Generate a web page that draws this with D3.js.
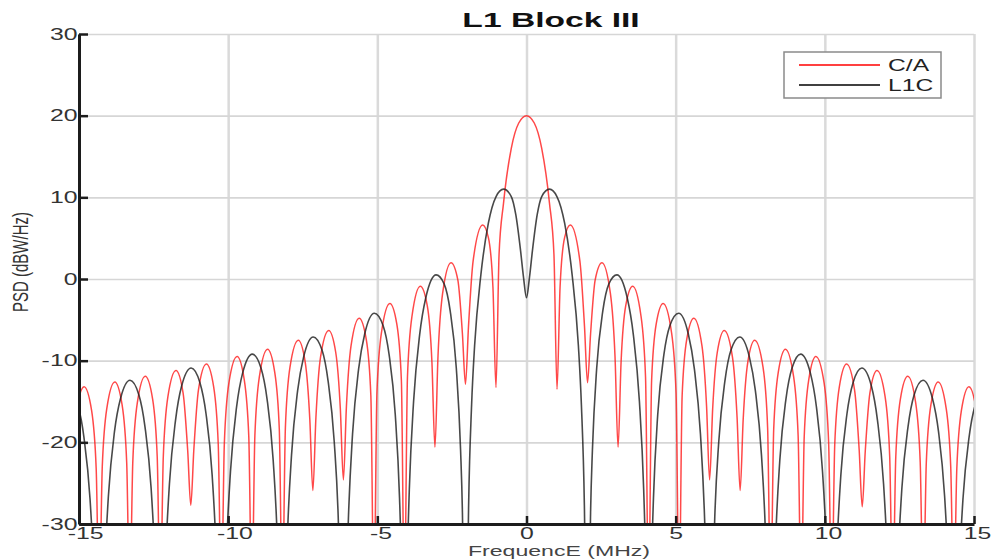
<!DOCTYPE html>
<html>
<head>
<meta charset="utf-8">
<script src="https://cdn.jsdelivr.net/npm/d3@7"></script>
<style>
  body { margin: 0; background: #fff; }
  text { font-family: "Liberation Sans", Arial, sans-serif; }
</style>
</head>
<body>
<script>
// tick values
const xTicks = [-15, -10, -5, 0, 5, 10, 15]
const yTicks = [-30, -20, -10, 0, 10, 20, 30]
const seriesNames = ['C/A', 'L1C']

// C/A (BPSK) PSD, [MHz, dB]
const caPsd = [
  [-15.345,-40],[-15.243,-23.6],[-15.089,-16.4],[-14.83,-13.2],[-14.578,-16.1],[-14.424,-23.2],
  [-14.322,-40],[-14.220,-23.0],[-14.066,-15.8],[-13.80,-12.6],[-13.555,-15.4],[-13.401,-22.5],
  [-13.299,-40],[-13.197,-22.4],[-13.043,-15.1],[-12.78,-11.9],[-12.532,-14.7],[-12.378,-21.8],
  [-12.276,-40],[-12.174,-21.7],[-12.020,-14.4],[-11.75,-11.2],[-11.509,-14.0],[-11.355,-21.1],
  [-11.253,-27.7],[-11.151,-20.9],[-10.997,-13.6],[-10.73,-10.4],[-10.486,-13.2],[-10.332,-20.3],
  [-10.23,-40],[-10.128,-20.1],[-9.974,-12.7],[-9.70,-9.5],[-9.463,-12.3],[-9.309,-19.3],
  [-9.207,-40],[-9.105,-19.2],[-8.951,-11.9],[-8.68,-8.6],[-8.440,-11.4],[-8.286,-18.4],
  [-8.184,-40],[-8.082,-18.2],[-7.928,-10.8],[-7.65,-7.5],[-7.417,-10.2],[-7.263,-17.2],
  [-7.161,-25.9],[-7.059,-17.0],[-6.905,-9.6],[-6.63,-6.3],[-6.394,-9.0],[-6.240,-15.9],
  [-6.138,-24.6],[-6.036,-15.6],[-5.882,-8.2],[-5.61,-4.8],[-5.371,-7.4],[-5.217,-14.3],
  [-5.115,-40],[-5.013,-13.9],[-4.859,-6.5],[-4.58,-3.0],[-4.348,-5.5],[-4.194,-12.4],
  [-4.092,-40],[-3.990,-12.0],[-3.836,-4.5],[-3.56,-0.9],[-3.325,-3.3],[-3.171,-10.1],
  [-3.069,-20.6],[-2.967,-9.5],[-2.813,-1.8],[-2.53,2.0],[-2.302,-0.1],[-2.148,-6.7],
  [-2.046,-12.9],[-1.944,-5.8],[-1.790,2.2],[-1.47,6.6],[-1.279,5.1],[-1.125,-1.0],
  [-1.023,-13.3],[-0.92,3.0],[-0.77,9.3],[-0.51,16.0],[-0.26,19.1],[0,20.0],
  [0.26,19.1],[0.51,16.0],[0.77,9.3],[0.92,3.0],
  [1.023,-13.5],[1.125,-1.0],[1.279,5.1],[1.47,6.6],[1.790,2.2],[1.944,-5.8],
  [2.046,-12.7],[2.148,-6.7],[2.302,-0.1],[2.53,2.0],[2.813,-1.8],[2.967,-9.5],
  [3.069,-20.6],[3.171,-10.1],[3.325,-3.3],[3.56,-0.9],[3.836,-4.5],[3.990,-12.0],
  [4.092,-40],[4.194,-12.4],[4.348,-5.5],[4.58,-3.0],[4.859,-6.5],[5.013,-13.9],
  [5.115,-40],[5.217,-14.3],[5.371,-7.4],[5.61,-4.8],[5.882,-8.2],[6.036,-15.6],
  [6.138,-24.6],[6.240,-15.9],[6.394,-9.0],[6.63,-6.3],[6.905,-9.6],[7.059,-17.0],
  [7.161,-25.9],[7.263,-17.2],[7.417,-10.2],[7.65,-7.5],[7.928,-10.8],[8.082,-18.2],
  [8.184,-40],[8.286,-18.4],[8.440,-11.4],[8.68,-8.6],[8.951,-11.9],[9.105,-19.2],
  [9.207,-40],[9.309,-19.3],[9.463,-12.3],[9.70,-9.5],[9.974,-12.7],[10.128,-20.1],
  [10.23,-40],[10.332,-20.3],[10.486,-13.2],[10.73,-10.4],[10.997,-13.6],[11.151,-20.9],
  [11.253,-27.9],[11.355,-21.1],[11.509,-14.0],[11.75,-11.2],[12.020,-14.4],[12.174,-21.7],
  [12.276,-40],[12.378,-21.8],[12.532,-14.7],[12.78,-11.9],[13.043,-15.1],[13.197,-22.4],
  [13.299,-40],[13.401,-22.5],[13.555,-15.4],[13.80,-12.6],[14.066,-15.8],[14.220,-23.0],
  [14.322,-40],[14.424,-23.2],[14.578,-16.1],[14.83,-13.2],[15.089,-16.4],[15.243,-23.6],
  [15.345,-40]
]

// L1C (BOC(1,1)) PSD, [MHz, dB]
const l1cPsd = [
  [-15.345,-13.7],[-15.038,-15.5],[-14.834,-19.4],[-14.629,-27.0],[-14.486,-37.4],
  [-14.322,-60],[-14.158,-37.2],[-14.015,-26.6],[-13.811,-18.7],[-13.606,-14.6],[-13.29,-12.4],
  [-12.992,-14.2],[-12.788,-18.1],[-12.583,-25.6],[-12.440,-36.0],
  [-12.276,-60],[-12.112,-35.7],[-11.969,-25.1],[-11.765,-17.3],[-11.560,-13.1],[-11.24,-10.9],
  [-10.946,-12.7],[-10.742,-16.5],[-10.537,-24.0],[-10.394,-34.4],
  [-10.23,-60],[-10.066,-34.2],[-9.923,-23.6],[-9.719,-15.7],[-9.514,-11.5],[-9.19,-9.2],
  [-8.900,-10.9],[-8.696,-14.7],[-8.491,-22.2],[-8.348,-32.6],
  [-8.184,-60],[-8.020,-32.3],[-7.877,-21.6],[-7.673,-13.7],[-7.468,-9.5],[-7.15,-7.1],
  [-6.854,-8.7],[-6.650,-12.5],[-6.445,-19.9],[-6.302,-30.2],
  [-6.138,-60],[-6.036,-37.8],[-5.974,-29.8],[-5.831,-19.0],[-5.627,-11.0],[-5.422,-6.7],[-5.10,-4.2],
  [-4.808,-5.7],[-4.604,-9.3],[-4.399,-16.6],[-4.256,-26.8],[-4.194,-34.7],
  [-4.092,-60],[-3.990,-34.0],[-3.928,-25.8],[-3.785,-15.0],[-3.581,-6.8],[-3.376,-2.3],[-3.03,0.5],
  [-2.762,-0.6],[-2.558,-3.9],[-2.353,-10.9],[-2.210,-20.9],[-2.148,-28.6],
  [-2.046,-60],[-1.94,-27.7],[-1.84,-15.4],[-1.74,-8.2],[-1.53,0.5],[-1.28,6.8],[-1.02,10.1],
  [-0.77,11.0],[-0.51,10.1],[-0.36,7.9],[-0.2,3.5],[-0.1,0.2],
  [0,-2.3],
  [0.1,0.2],[0.2,3.5],[0.36,7.9],[0.51,10.1],[0.77,11.0],[1.02,10.1],[1.28,6.8],[1.53,0.5],
  [1.74,-8.2],[1.84,-15.4],[1.94,-27.7],
  [2.046,-60],[2.148,-28.6],[2.210,-20.9],[2.353,-10.9],[2.558,-3.9],[2.762,-0.6],[3.03,0.5],
  [3.376,-2.3],[3.581,-6.8],[3.785,-15.0],[3.928,-25.8],[3.990,-34.0],
  [4.092,-60],[4.194,-34.7],[4.256,-26.8],[4.399,-16.6],[4.604,-9.3],[4.808,-5.7],[5.10,-4.2],
  [5.422,-6.7],[5.627,-11.0],[5.831,-19.0],[5.974,-29.8],[6.036,-37.8],
  [6.138,-60],[6.302,-30.2],[6.445,-19.9],[6.650,-12.5],[6.854,-8.7],[7.15,-7.1],
  [7.468,-9.5],[7.673,-13.7],[7.877,-21.6],[8.020,-32.3],
  [8.184,-60],[8.348,-32.6],[8.491,-22.2],[8.696,-14.7],[8.900,-10.9],[9.19,-9.2],
  [9.514,-11.5],[9.719,-15.7],[9.923,-23.6],[10.066,-34.2],
  [10.23,-60],[10.394,-34.4],[10.537,-24.0],[10.742,-16.5],[10.946,-12.7],[11.24,-10.9],
  [11.560,-13.1],[11.765,-17.3],[11.969,-25.1],[12.112,-35.7],
  [12.276,-60],[12.440,-36.0],[12.583,-25.6],[12.788,-18.1],[12.992,-14.2],[13.29,-12.4],
  [13.606,-14.6],[13.811,-18.7],[14.015,-26.6],[14.158,-37.2],
  [14.322,-60],[14.486,-37.4],[14.629,-27.0],[14.834,-19.4],[15.038,-15.5],[15.345,-13.7]
]

const width = 999, height = 559
const plotL = 79, plotR = 974, plotT = 34, plotB = 524
const colors = ['#ff1a1a', '#1a1a1a']

const svg = d3.select('body').append('svg').attr('width', width).attr('height', height)
svg.append('rect').attr('width', width).attr('height', height).attr('fill', '#fff')

const x = d3.scaleLinear().domain([-15, 15]).range([plotL, plotR])
const y = d3.scaleLinear().domain([-30, 30]).range([plotB, plotT])

// grid
svg.append('g').attr('transform', `translate(0,${plotB})`)
    .call(d3.axisBottom(x).tickValues(xTicks).tickSize(-(plotB - plotT)).tickFormat(''))
    .call(g => g.select('.domain').remove())
    .selectAll('line').attr('stroke', '#dadada').attr('stroke-width', 2.5)
svg.append('g').attr('transform', `translate(${plotL},0)`)
    .call(d3.axisLeft(y).tickValues(yTicks).tickSize(-(plotR - plotL)).tickFormat(''))
    .call(g => g.select('.domain').remove())
    .selectAll('line').attr('stroke', '#d6d6d6').attr('stroke-width', 1.6)

// curves
svg.append('clipPath').attr('id', 'plot')
    .append('rect').attr('x', plotL).attr('y', plotT).attr('width', plotR - plotL).attr('height', plotB - plotT)

const line = d3.line().x(d => x(d[0])).y(d => y(d[1])).curve(d3.curveMonotoneX)

svg.append('path').datum(caPsd).attr('clip-path', 'url(#plot)')
    .attr('d', line).attr('fill', 'none')
    .attr('stroke', colors[0]).attr('stroke-width', 1.5).attr('stroke-opacity', 0.8)
svg.append('path').datum(l1cPsd).attr('clip-path', 'url(#plot)')
    .attr('d', line).attr('fill', 'none')
    .attr('stroke', colors[1]).attr('stroke-width', 1.6).attr('stroke-opacity', 0.8)

// axes (plain hyphen for negatives, like the original)
const fmt = d => String(d)
const xAxis = svg.append('g').attr('transform', `translate(0,${plotB})`)
    .call(d3.axisBottom(x).tickValues(xTicks).tickFormat(fmt).tickSize(-8).tickSizeOuter(0).tickPadding(4))
const yAxis = svg.append('g').attr('transform', `translate(${plotL},0)`)
    .call(d3.axisLeft(y).tickValues(yTicks).tickFormat(fmt).tickSize(-9).tickSizeOuter(0).tickPadding(1))

for (const g of [xAxis, yAxis]) {
    g.select('.domain').attr('stroke', '#1c1c1c').attr('stroke-width', 3)
    g.selectAll('.tick line').attr('stroke', '#1c1c1c').attr('stroke-width', 2.5)
    g.selectAll('text').attr('fill', '#333').attr('font-size', 16)
        .attr('font-family', '"Liberation Sans", Arial, sans-serif')
}
xAxis.selectAll('text')
    .attr('transform', 'scale(1.55,1)')
    .attr('x', d => String(d).length * 2 - 2)
yAxis.selectAll('text')
    .attr('transform', 'scale(1.55,1)')
    .attr('x', -1)

// title and labels
svg.append('text').attr('transform', 'translate(551,27) scale(1.6,1)')
    .attr('text-anchor', 'middle').attr('font-weight', 'bold').attr('font-size', 21)
    .attr('fill', '#111').text('L1 Block III')
svg.append('text').attr('transform', 'translate(559,556) scale(1.65,1)')
    .attr('text-anchor', 'middle').attr('font-size', 14).attr('fill', '#444')
    .text('FrequencE (MHz)')
svg.append('text').attr('transform', 'translate(28,262) scale(1.5,1) rotate(-90)')
    .attr('text-anchor', 'middle').attr('font-size', 15).attr('fill', '#333')
    .text('PSD (dBW/Hz)')

// legend
const legend = svg.append('g').attr('transform', 'translate(784,52)')
legend.append('rect').attr('width', 157).attr('height', 46)
    .attr('fill', '#fff').attr('stroke', '#8a8a8a').attr('stroke-width', 1.5)
seriesNames.forEach((name, i) => {
    const ly = 13 + i * 20
    legend.append('line').attr('x1', 15).attr('x2', 96).attr('y1', ly).attr('y2', ly)
        .attr('stroke', i ? '#000' : '#ff0000').attr('stroke-width', 1.5)
    legend.append('text').attr('transform', `translate(104,${ly + 6}) scale(1.45,1)`)
        .attr('font-size', 17).attr('fill', '#222').text(name)
})
</script>
</body>
</html>
